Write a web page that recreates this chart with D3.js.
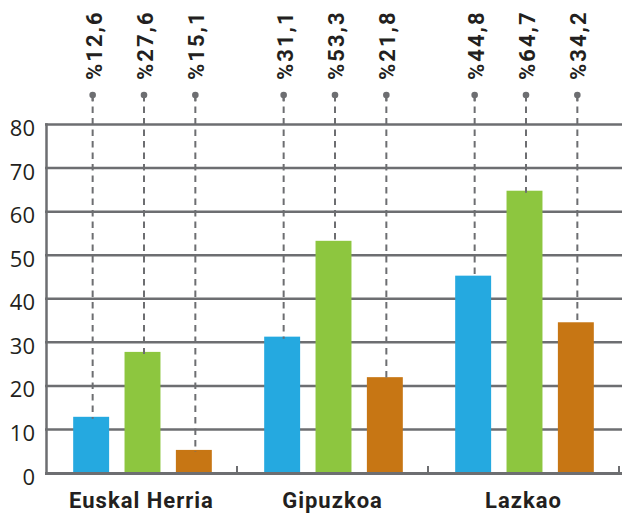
<!DOCTYPE html>
<html lang="eu">
<head>
<meta charset="UTF-8">
<title>Euskal Herria, Gipuzkoa, Lazkao</title>
<style>
  body { margin: 0; background: #fff; }
  .grid line { stroke: #6d6e71; stroke-width: 2.5; }
  .ylab { font-family: "Open Sans", sans-serif; font-size: 22px; fill: #231f20; }
  .cat { font-family: Roboto, sans-serif; font-weight: bold; font-size: 22px; fill: #231f20; letter-spacing: 1px; }
  .pct { font-family: Roboto, sans-serif; font-weight: bold; font-size: 22px; fill: #231f20; letter-spacing: 2px; }
  .leader { stroke: #6d6e71; stroke-width: 2; stroke-dasharray: 6.5 5; }
</style>
</head>
<body>
<svg width="622" height="515"></svg>
<script src="https://cdn.jsdelivr.net/npm/d3@7"></script>
<script>
var categories = ["Euskal Herria", "Gipuzkoa", "Lazkao"];
var series = ["s1", "s2", "s3"];
var colors = ["#25a9e0", "#8dc63f", "#c77614"];
// bar heights as drawn
var barValues = [
  [12.9, 27.8, 5.3],
  [31.3, 53.3, 22.0],
  [45.3, 64.8, 34.6]
];
// percentage labels printed above
var pctLabels = [
  ["%12,6", "%27,6", "%15,1"],
  ["%31,1", "%53,3", "%21,8"],
  ["%44,8", "%64,7", "%34,2"]
];
var yTicks = [0, 10, 20, 30, 40, 50, 60, 70, 80];

var svg = d3.select("svg"),
    plotLeft = 47, plotRight = 620, plotTop = 124.5, plotBottom = 473;

var x0 = d3.scaleBand()
    .domain(categories)
    .range([plotLeft, plotRight]);

var x1 = d3.scaleBand()
    .domain(series)
    .range([0, x0.bandwidth()])
    .paddingInner(0.3)
    .paddingOuter(0.51);

var y = d3.scaleLinear()
    .domain([0, 80])
    .range([plotBottom, plotTop]);

// gridlines
svg.append("g").attr("class", "grid")
  .selectAll("line")
  .data(yTicks.filter(function(d) { return d > 0; }))
  .enter().append("line")
    .attr("x1", plotLeft - 2)
    .attr("x2", 622)
    .attr("y1", function(d) { return y(d); })
    .attr("y2", function(d) { return y(d); });

// y axis line
svg.append("line")
    .attr("x1", plotLeft - 0.5).attr("x2", plotLeft - 0.5)
    .attr("y1", y(80) - 1.2).attr("y2", y(0))
    .attr("stroke", "#6d6e71").attr("stroke-width", 2.5);

// y labels
svg.append("g")
  .selectAll("text")
  .data(yTicks)
  .enter().append("text")
    .attr("class", "ylab")
    .attr("text-anchor", "end")
    .attr("x", 35)
    .attr("y", function(d) { return y(d) + 11.5; })
    .text(function(d) { return d; });

// bars
var groups = svg.selectAll(".group")
  .data(categories)
  .enter().append("g")
    .attr("class", "group")
    .attr("transform", function(d) { return "translate(" + x0(d) + ",0)"; });

groups.selectAll("rect")
  .data(function(d, i) { return barValues[i]; })
  .enter().append("rect")
    .attr("x", function(d, j) { return x1(series[j]); })
    .attr("y", function(d) { return y(d); })
    .attr("width", x1.bandwidth())
    .attr("height", function(d) { return y(0) - y(d); })
    .attr("fill", function(d, j) { return colors[j]; });

// leader lines, dots and percentage labels
groups.each(function(c, i) {
  var g = d3.select(this);
  barValues[i].forEach(function(v, j) {
    var lx = x1(series[j]) + x1.bandwidth() / 2 + 1.5;
    g.append("line")
        .attr("class", "leader")
        .attr("x1", lx).attr("x2", lx)
        .attr("y1", 95).attr("y2", y(v) + 2);
    g.append("line")
        .attr("x1", lx).attr("x2", lx)
        .attr("y1", 95).attr("y2", 101)
        .attr("stroke", "#6d6e71").attr("stroke-width", 2);
    g.append("circle")
        .attr("cx", lx).attr("cy", 95).attr("r", 3.3)
        .attr("fill", "#6d6e71");
    g.append("text")
        .attr("class", "pct")
        .attr("transform", "translate(" + lx + ",80) rotate(-90)")
        .attr("y", 9)
        .text(pctLabels[i][j]);
  });
});

// baseline with group ticks
svg.append("line")
    .attr("x1", plotLeft - 2).attr("x2", plotRight + 2)
    .attr("y1", plotBottom + 0.5).attr("y2", plotBottom + 0.5)
    .attr("stroke", "#6d6e71").attr("stroke-width", 3);

svg.append("g")
  .selectAll("line")
  .data(categories)
  .enter().append("line")
    .attr("x1", function(d) { return x0(d) + x0.bandwidth() - 1; })
    .attr("x2", function(d) { return x0(d) + x0.bandwidth() - 1; })
    .attr("y1", plotBottom - 7).attr("y2", plotBottom)
    .attr("stroke", "#6d6e71").attr("stroke-width", 2);

// category labels
svg.append("g")
  .selectAll("text")
  .data(categories)
  .enter().append("text")
    .attr("class", "cat")
    .attr("text-anchor", "middle")
    .attr("x", function(d) { return x0(d) + x0.bandwidth() / 2 - 1; })
    .attr("y", 508)
    .text(function(d) { return d; });
</script>
</body>
</html>
